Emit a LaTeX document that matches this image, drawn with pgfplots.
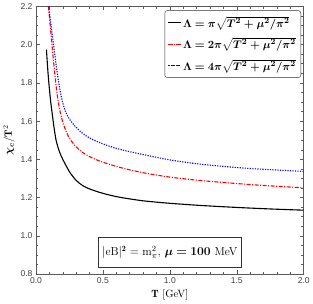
\documentclass[border=0pt]{standalone}
\usepackage{amsmath,bm}
\usepackage{fontspec}
\setsansfont{Liberation Sans}
\usepackage{pgfplots}
\pgfplotsset{compat=1.18}
\begin{document}
\begin{tikzpicture}
\begin{axis}[
  scale only axis,
  width=265bp, height=265bp,
  xmin=0, xmax=2, ymin=0.8, ymax=2.2,
  xtick={0,0.5,1,1.5,2},
  ytick={0.8,1.0,1.2,1.4,1.6,1.8,2.0,2.2},
  minor x tick num=4,
  minor y tick num=3,
  axis line style={black!65, line width=0.8pt},
  every tick/.style={black!65, line width=0.5pt},
  major tick length=4pt, minor tick length=2.2pt,
  tick label style={font=\sffamily\fontsize{8.5}{9}\selectfont, text=black!75},
  /pgf/number format/assume math mode=true,
  xticklabel style={/pgf/number format/.cd, fixed, fixed zerofill, precision=1},
  yticklabel style={/pgf/number format/.cd, fixed, fixed zerofill, precision=1},
  xlabel={$\mathbf{T}$ [GeV]},
  ylabel={$\bm{\chi_c}/\mathbf{T}^2$},
  label style={font=\fontsize{10.5}{11}\selectfont},
  xlabel style={yshift=1pt},
  ylabel style={yshift=-1pt},
  legend style={at={(0.99,0.985)}, anchor=north east, draw=black!80, rounded corners=2.5pt,
     font=\fontsize{11}{12}\selectfont, row sep=5pt, inner xsep=3pt, inner ysep=4pt},
  legend image post style={xscale=0.7},
  legend cell align=left,
  clip=true,
]
\addplot[black, line width=1.1pt, smooth] coordinates {
(0.078,1.973) (0.09,1.85) (0.10,1.77) (0.11,1.70) (0.12,1.645) (0.133,1.575)
(0.15,1.50) (0.175,1.44) (0.20,1.40) (0.25,1.335) (0.30,1.29) (0.35,1.262)
(0.40,1.245) (0.45,1.233) (0.50,1.222) (0.60,1.205) (0.70,1.193) (0.80,1.183)
(0.90,1.176) (1.00,1.170) (1.20,1.160) (1.40,1.152) (1.60,1.145) (1.80,1.139) (2.00,1.134)};
\addlegendentry{$\bm{\Lambda=\pi\sqrt{T^2+\mu^2/\pi^2}}$}
\addplot[red, line width=1.1pt, dash pattern=on 4pt off 1.5pt on 1pt off 1.5pt, smooth] coordinates {
(0.093,2.20) (0.10,2.145) (0.11,2.07) (0.12,1.995) (0.13,1.92) (0.14,1.85)
(0.15,1.785) (0.16,1.73) (0.17,1.685) (0.18,1.65) (0.19,1.62) (0.20,1.595)
(0.22,1.555) (0.25,1.51) (0.30,1.465) (0.35,1.435) (0.40,1.414) (0.45,1.398)
(0.50,1.385) (0.60,1.363) (0.70,1.345) (0.83,1.326) (1.00,1.307) (1.20,1.291)
(1.40,1.279) (1.60,1.268) (1.80,1.259) (2.00,1.251)};
\addlegendentry{$\bm{\Lambda=2\pi\sqrt{T^2+\mu^2/\pi^2}}$}
\addplot[blue, line width=1.1pt, dash pattern=on 1.2pt off 1.3pt, smooth] coordinates {
(0.095,2.20) (0.10,2.17) (0.11,2.115) (0.12,2.06) (0.13,2.005) (0.14,1.95)
(0.15,1.895) (0.16,1.845) (0.17,1.80) (0.18,1.76) (0.19,1.725) (0.20,1.695)
(0.22,1.65) (0.25,1.61) (0.30,1.567) (0.35,1.535) (0.40,1.512) (0.46,1.492)
(0.55,1.468) (0.65,1.448) (0.80,1.425) (1.00,1.397) (1.20,1.377) (1.40,1.363)
(1.60,1.352) (1.80,1.344) (2.00,1.337)};
\addlegendentry{$\bm{\Lambda=4\pi\sqrt{T^2+\mu^2/\pi^2}}$}
\node[draw=black!80, line width=0.6pt, fill=white, inner xsep=3.5pt, inner ysep=8.5pt,
  font=\fontsize{11.5}{12}\selectfont] at (axis cs:1.0,0.915)
  {$|\mathrm{eB}|^{\mathbf{2}}=\mathrm{m}_\pi^2$, $\bm{\mu=100}$ MeV};
\end{axis}
\end{tikzpicture}
\end{document}
